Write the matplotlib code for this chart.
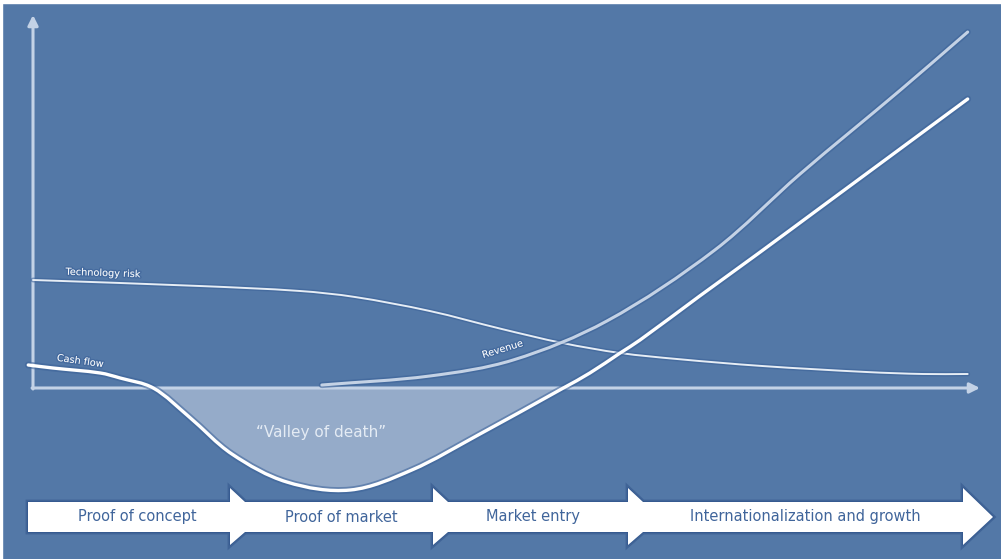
import numpy as np
import matplotlib
matplotlib.use("Agg")
import matplotlib.pyplot as plt
import matplotlib.patheffects as pe
from matplotlib.patches import Polygon, Rectangle, PathPatch
from matplotlib.path import Path

# curves in chart units: t = time (0..100 along the x axis), v = value (0 at the x axis)
tech_t = [0, 17.6, 28.2, 34.0, 41.9, 49.5, 55.9, 62.0, 68.0, 77.0, 88.0, 94.0, 98.7]
tech_v = [108, 102, 97, 91, 77, 59, 45, 35, 29, 22, 16, 14, 14]

cash_t = [-0.5, 2.1, 7.1, 9.2, 12.7, 16.5, 21.0, 26.8, 33.5, 40.0, 47.0, 56.0,
          58.8, 62.0, 64.1, 70.4, 76.8, 83.1, 89.4, 98.7]
cash_v = [23, 20, 15, 10, 0, -29, -66, -94, -102, -82, -47, 0,
          15, 35, 48, 92, 136, 180, 224, 289]

rev_t = [30.5, 41.9, 50.7, 60.6, 72.0, 81.0, 91.6, 98.7]
rev_v = [3, 12, 28, 67, 138, 214, 298, 356]

stages = ["Proof of concept", "Proof of market", "Market entry", "Internationalization and growth"]
stage_centers = [137, 341, 533, 805]      # pixels
head_bases = [230, 433, 628]               # pixels, arrow heads between stages

BG = "#5378a7"
FILL = "#95abc9"
AXIS = "#c3d2e6"
GLOW = "#3b6198"
SX, SY = 9.47, 1.0   # pixels per chart unit


def smooth_segments(xs, ys):
    # cubic bezier through the points, tangents from neighbours, scaled by chord length (pixel space)
    p = np.column_stack([np.array(xs) * SX, np.array(ys) * SY]).astype(float)
    ext = np.vstack([p[0], p, p[-1]])
    segs = []
    for i in range(len(p) - 1):
        p0, p1, p2, p3 = ext[i], ext[i + 1], ext[i + 2], ext[i + 3]
        d1 = p2 - p0
        d2 = p3 - p1
        d1 = d1 / np.hypot(*d1)
        d2 = d2 / np.hypot(*d2)
        L = np.hypot(*(p2 - p1)) / 3
        segs.append((p1, p1 + d1 * L, p2 - d2 * L, p2))
    scale = np.array([SX, SY])
    return [tuple(q / scale for q in s) for s in segs]


def seg_path(segs, close=False):
    verts = [segs[0][0]]
    codes = [Path.MOVETO]
    for _, c1, c2, e in segs:
        verts += [c1, c2, e]
        codes += [Path.CURVE4] * 3
    if close:
        verts += [verts[0]]
        codes += [Path.CLOSEPOLY]
    return Path(verts, codes)


fig = plt.figure(figsize=(10.01, 5.59), dpi=100, facecolor="white")

ax = fig.add_axes([0, 0, 1, 1])
ax.set_xlim(-33 / SX, (1001 - 33) / SX)
ax.set_ylim(-171, 388)
ax.axis("off")
ax.add_patch(Rectangle((0, 0), 1, 1, transform=ax.transAxes, color=BG, zorder=0))

glow = lambda w: [pe.withStroke(linewidth=w, foreground=GLOW, alpha=0.55)]

# valley of death fill (between the two zero crossings of cash flow)
cash_segs = smooth_segments(cash_t, cash_v)
z = [i for i, v in enumerate(cash_v) if v == 0]
ax.add_patch(PathPatch(seg_path(cash_segs[z[0]:z[1]], close=True), facecolor=FILL, lw=0, zorder=1))

# axes arrows
ax.annotate("", xy=(0, 373), xytext=(0, -1),
            arrowprops=dict(arrowstyle="-|>,head_length=0.6,head_width=0.3", color=AXIS, lw=2.2,
                            shrinkA=0, shrinkB=0), zorder=2)
ax.annotate("", xy=(100.0, 0), xytext=(-0.1, 0),
            arrowprops=dict(arrowstyle="-|>,head_length=0.6,head_width=0.3", color=AXIS, lw=2.2,
                            shrinkA=0, shrinkB=0), zorder=2)

for xs, ys, col, lw, gw, zo in [(tech_t, tech_v, "#e6edf5", 1.4, 3.5, 3),
                                (rev_t, rev_v, "#c4d2e5", 2.2, 4.5, 3),
                                (cash_t, cash_v, "white", 2.4, 5, 4)]:
    ax.add_patch(PathPatch(seg_path(smooth_segments(xs, ys)), facecolor="none", edgecolor=col,
                           lw=lw, capstyle="round", zorder=zo, path_effects=glow(gw)))

lbl = dict(color="white", fontsize=7, ha="center", va="center", zorder=5,
           path_effects=[pe.withStroke(linewidth=2, foreground=GLOW, alpha=0.6)])
ax.text(7.4, 115, "Technology risk", rotation=-2, **lbl)
ax.text(5.0, 27, "Cash flow", rotation=-8, **lbl)
ax.text(49.6, 39, "Revenue", rotation=17, **lbl)
ax.text(30.4, -45, "\u201cValley of death\u201d", color="#e4ebf4", fontsize=11,
        ha="center", va="center", zorder=5)

# stage band (pixel overlay)
ov = fig.add_axes([0, 0, 1, 1])
ov.set_xlim(0, 1001)
ov.set_ylim(559, 0)
ov.axis("off")
ov.patch.set_alpha(0)

top, bot, wtop, wbot, mid = 502, 532, 488, 545, 517
pts = [(28, top)]
for b in head_bases:
    pts += [(b, top), (b, wtop), (b + 15, top)]
pts += [(963, top), (963, wtop), (993, mid), (963, wbot), (963, bot)]
for b in reversed(head_bases):
    pts += [(b + 15, bot), (b, wbot), (b, bot)]
pts += [(28, bot)]
ov.add_patch(Polygon(pts, closed=True, facecolor="white", edgecolor="#34598f", lw=1.2, zorder=6,
                     path_effects=[pe.withStroke(linewidth=3.5, foreground="#2f5288", alpha=0.5)]))
ov.add_patch(Polygon(pts, closed=True, facecolor="white", edgecolor="none", zorder=7))

for name, cx in zip(stages, stage_centers):
    ov.text(cx, mid, name, color="#40659b", fontsize=10.5, ha="center", va="center", zorder=8)

# thin white frame at top and left
fig.patches.append(Rectangle((0, 1 - 3 / 559), 1, 3 / 559, transform=fig.transFigure, color="white", zorder=10))
fig.patches.append(Rectangle((0, 0), 2 / 1001, 1, transform=fig.transFigure, color="white", zorder=10))

fig.savefig("out.png", dpi=100, facecolor="white")
